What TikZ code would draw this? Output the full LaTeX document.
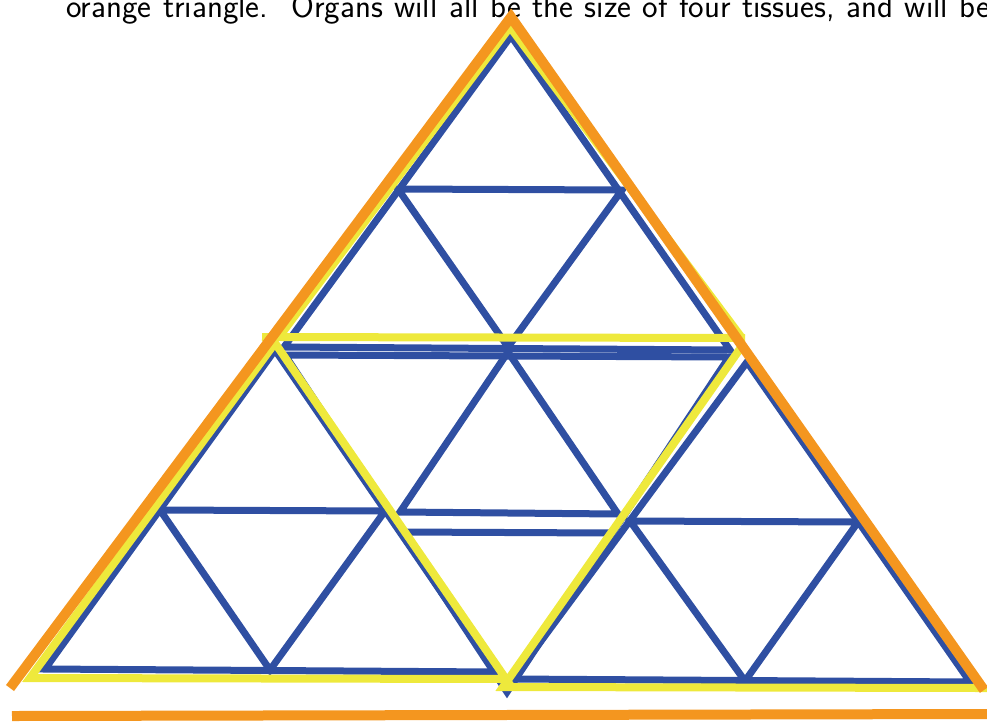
\documentclass[tikz,border=0pt]{standalone}
\usepackage{tikz}
\usetikzlibrary{calc}
\definecolor{triOrange}{HTML}{F4961F}
\definecolor{triYellow}{HTML}{EEE93C}
\definecolor{triBlue}{HTML}{2F4FA2}

\begin{document}
\begin{tikzpicture}[
    x=1pt, y=-1pt,
    organism/.style={line width=10pt, draw=triOrange, line join=miter},
    organ/.style={line width=8pt, draw=triYellow, line join=miter},
    tissue/.style={line width=7pt, draw=triBlue, line join=miter},
    caption/.style={font=\sffamily\fontsize{33}{38}\selectfont, anchor=base west, inner sep=0pt}
]
\useasboundingbox (0,0) rectangle (987,721);
\clip (0,0) rectangle (987,721);

% ============================
% Caption line (cut at the top)
% ============================
\node[caption] (capline) at (66,17) {\makebox[924pt][s]{orange triangle.\ \ Organs will all be the size of four tissues, and will be}};

% ============================
% Tissues (blue)
% ============================
% top organ
\draw[tissue] (511,36) -- (284,347) -- (730,350) -- cycle;
\draw[tissue] (398,189) -- (622,190) -- (508,347) -- cycle;

% middle (upside down) organ
\draw[tissue] (285,355) -- (729,357) -- (507,692) -- cycle;
\draw[tissue] (508,352) -- (400,512) -- (618,514) -- cycle;
\draw[tissue] (402,532) -- (612,533);

% bottom left organ
\draw[tissue] (275,350) -- (45,669) -- (496,672) -- cycle;
\draw[tissue] (160,510) -- (385,511) -- (270,670) -- cycle;

% bottom right organ
\draw[tissue] (747,362) -- (513,679) -- (970,682) -- cycle;
\draw[tissue] (630,521) -- (858,522) -- (745,681) -- cycle;

% ============================
% Organs (yellow)
% ============================
\draw[organ] (262,337) -- (745,338);
\draw[organ] (279,337) -- (510,27) -- (742,338);
\draw[organ] (275,343) -- (30,678) -- (506,679) -- cycle;
\draw[organ] (742,346) -- (982,688) -- (503,687) -- cycle;

% ============================
% Organism (orange)
% ============================
\draw[organism] (10,688) -- (511,17) -- (984,690);
\draw[organism] (12,716) -- (987,714);

\end{tikzpicture}
\end{document}
